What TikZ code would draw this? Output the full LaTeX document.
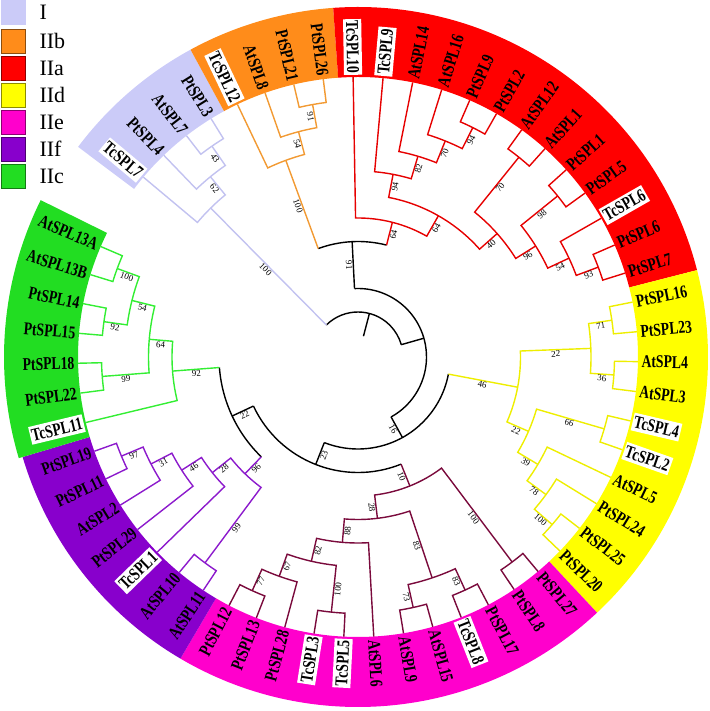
\documentclass[tikz,border=0pt]{standalone}
\usepackage{fontspec}
\setmainfont{Liberation Serif}
\newfontfamily\tipfont[FakeStretch=0.76]{Liberation Serif}
\usepackage{tikz}
\usetikzlibrary{positioning}
\definecolor{bandI}{HTML}{CBCBF8}
\definecolor{bandIIb}{HTML}{FF8C1A}
\definecolor{bandIIa}{HTML}{FF0000}
\definecolor{bandIId}{HTML}{FFFF00}
\definecolor{bandIIe}{HTML}{FF00CC}
\definecolor{bandIIf}{HTML}{8800CC}
\definecolor{bandIIc}{HTML}{22DD22}
\definecolor{lineI}{HTML}{C2C2F0}
\definecolor{lineIIb}{HTML}{F29A33}
\definecolor{lineIIa}{HTML}{E60000}
\definecolor{lineIId}{HTML}{EEEE00}
\definecolor{lineIIe}{HTML}{7A0A3C}
\definecolor{lineIIf}{HTML}{8C1ACC}
\definecolor{lineIIc}{HTML}{33EE33}
\newcounter{bsc}
% tip k sits at 91-6.13k degrees, height h at radius 280-23.5h
\newcommand{\clade}[6]{\draw[branch,#1] ({91-6.13*(#3)}:{280-23.5*(#4)}) -- ({91-6.13*(#3)}:{280-23.5*(#2)})
  arc[start angle={91-6.13*(#3)}, end angle={91-6.13*(#5)}, radius={(280-23.5*(#2))*1pt}] -- ({91-6.13*(#5)}:{280-23.5*(#6)});}
\newcommand{\stem}[4]{\draw[branch,#1] ({91-6.13*(#2)}:{280-23.5*(#3)}) -- ({91-6.13*(#2)}:{280-23.5*(#4)});}
\newcommand{\bbarc}[4]{\draw[branch,#1] ({91-6.13*(#3)}:{280-23.5*(#2)})
  arc[start angle={91-6.13*(#3)}, end angle={91-6.13*(#4)}, radius={(280-23.5*(#2))*1pt}];}
\newcommand{\bslab}[4]{\stepcounter{bsc}\edef\bsN{bs\arabic{bsc}}%
  \pgfmathsetmacro\bsA{91-6.13*(#1)}%
  \pgfmathsetmacro\bsR{280-11.75*((#2)+(#3))}%
  \pgfmathsetmacro\bsT{cos(\bsA)>0 ? \bsA : \bsA+180}%
  \node[boot, rotate=\bsT] (\bsN) at (\bsA:\bsR) {#4};}

\begin{document}
\begin{tikzpicture}[x=1pt,y=1pt,
  branch/.style={line width=1.4pt},
  tip/.style={font=\tipfont\bfseries\fontsize{18}{18}\selectfont, inner xsep=1.5pt, inner ysep=3pt},
  boot/.style={font=\fontsize{9}{9}\selectfont, inner sep=1pt, anchor=north},
  legbox/.style={minimum size=24pt, inner sep=0pt, line width=0.8pt},
  legtxt/.style={font=\fontsize{22}{22}\selectfont, inner sep=0pt}]
\useasboundingbox (-358,-354) rectangle (351,357);

\foreach \ka/\kb/\col/\ro in {-8.5/-4.5/bandI/350, -4.5/-0.5/bandIIb/350, -0.5/12.5/bandIIa/350,
    12.5/22.5/bandIId/350, 22.5/34.5/bandIIe/350, 34.5/41.5/bandIIf/350, 41.5/48.5/bandIIc/354}
  \fill[\col] ({91-6.13*\ka}:280) arc[start angle={91-6.13*\ka}, end angle={91-6.13*\kb}, radius=280pt]
    -- ({91-6.13*\kb}:\ro) arc[start angle={91-6.13*\kb}, end angle={91-6.13*\ka}, radius=\ro pt] -- cycle;

\foreach \lab/\col/\py/\bd [count=\i] in {I/bandI/0/bandI, IIb/bandIIb/29/bandIIb!55!black,
    IIa/bandIIa/56/bandIIa!55!black, IId/bandIId/83/bandIId!55!black, IIe/bandIIe/110/bandIIe!55!black,
    IIf/bandIIf/137/bandIIf!55!black, IIc/bandIIc/164/bandIIc!55!black} {
  \node[legbox, fill=\col, draw=\bd] (sq\i) at (-345,345-\py) {};
  \node[legtxt, right=14pt of sq\i] (lg\i) {\lab};
}

% backbone
\stem{black}{2.5625}{11}{10}
\bbarc{black}{10}{-7.125}{12.25}
\stem{lineI}{-7.125}{10}{3}
\stem{black}{12.25}{10}{9}
\bbarc{black}{9}{-0.3125}{24.8125}
\stem{black}{-0.3125}{9}{7}
\stem{black}{24.8125}{9}{8}
\bbarc{black}{7}{-3.125}{2.5}
\stem{lineIIb}{-3.125}{7}{3}
\stem{lineIIa}{2.5}{7}{6}
\bbarc{black}{8}{16.59375}{33.03125}
\stem{lineIId}{16.59375}{8}{5}
\stem{black}{33.03125}{8}{7}
\bbarc{black}{7}{25.953125}{40.109375}
\stem{lineIIe}{25.953125}{7}{6}
\stem{black}{40.109375}{7}{6}
\bbarc{black}{6}{36.71875}{43.5}
\stem{lineIIf}{36.71875}{6}{5}
\stem{lineIIc}{43.5}{6}{4}
\bslab{-7.125}{10}{3}{100}
\bslab{-0.3125}{9}{7}{91}
\bslab{24.8125}{9}{8}{16}
\bslab{-3.125}{7}{3}{100}
\bslab{2.5}{7}{6}{64}
\bslab{16.59375}{8}{5}{46}
\bslab{33.03125}{8}{7}{23}
\bslab{25.953125}{7}{6}{10}
\bslab{40.109375}{7}{6}{22}
\bslab{36.71875}{6}{5}{96}
\bslab{43.5}{6}{4}{92}

% I
\clade{lineI}{1}{-6}{0}{-5}{0}
\clade{lineI}{2}{-7}{0}{-5.5}{1}
\clade{lineI}{3}{-8}{0}{-6.25}{2}
\bslab{-5.5}{2}{1}{43}
\bslab{-6.25}{3}{2}{62}

% IIb
\clade{lineIIb}{1}{-2}{0}{-1}{0}
\clade{lineIIb}{2}{-3}{0}{-1.5}{1}
\clade{lineIIb}{3}{-4}{0}{-2.25}{2}
\bslab{-1.5}{2}{1}{91}
\bslab{-2.25}{3}{2}{54}

% IIa
\clade{lineIIa}{1}{4}{0}{5}{0}
\clade{lineIIa}{2}{3}{0}{4.5}{1}
\clade{lineIIa}{3}{2}{0}{3.75}{2}
\clade{lineIIa}{4}{1}{0}{2.875}{3}
\clade{lineIIa}{1}{6}{0}{7}{0}
\clade{lineIIa}{1}{8}{0}{9}{0}
\clade{lineIIa}{1}{11}{0}{12}{0}
\clade{lineIIa}{2}{10}{0}{11.5}{1}
\clade{lineIIa}{3}{8.5}{1}{10.75}{2}
\clade{lineIIa}{4}{6.5}{1}{9.625}{3}
\clade{lineIIa}{5}{1.9375}{4}{8.0625}{4}
\clade{lineIIa}{6}{0}{0}{5}{5}
\bslab{4.5}{2}{1}{94}
\bslab{3.75}{3}{2}{70}
\bslab{2.875}{4}{3}{82}
\bslab{1.9375}{5}{4}{94}
\bslab{6.5}{4}{1}{70}
\bslab{8.5}{3}{1}{98}
\bslab{11.5}{2}{1}{93}
\bslab{10.75}{3}{2}{54}
\bslab{9.625}{4}{3}{96}
\bslab{8.0625}{5}{4}{40}
\bslab{5}{6}{5}{64}

% IId
\clade{lineIId}{1}{13}{0}{14}{0}
\clade{lineIId}{1}{15}{0}{16}{0}
\clade{lineIId}{2}{13.5}{1}{15.5}{1}
\clade{lineIId}{1}{17}{0}{18}{0}
\clade{lineIId}{1}{21}{0}{22}{0}
\clade{lineIId}{2}{20}{0}{21.5}{1}
\clade{lineIId}{3}{19}{0}{20.75}{2}
\clade{lineIId}{4}{17.5}{1}{19.875}{3}
\clade{lineIId}{5}{14.5}{2}{18.6875}{4}
\bslab{13.5}{2}{1}{71}
\bslab{15.5}{2}{1}{36}
\bslab{14.5}{5}{2}{22}
\bslab{17.5}{4}{1}{66}
\bslab{21.5}{2}{1}{100}
\bslab{20.75}{3}{2}{78}
\bslab{19.875}{4}{3}{39}
\bslab{18.6875}{5}{4}{22}

% IIe
\clade{lineIIe}{1}{23}{0}{24}{0}
\clade{lineIIe}{1}{25}{0}{26}{0}
\clade{lineIIe}{1}{27}{0}{28}{0}
\clade{lineIIe}{2}{25.5}{1}{27.5}{1}
\clade{lineIIe}{1}{30}{0}{31}{0}
\clade{lineIIe}{1}{33}{0}{34}{0}
\clade{lineIIe}{2}{32}{0}{33.5}{1}
\clade{lineIIe}{3}{30.5}{1}{32.75}{2}
\clade{lineIIe}{4}{29}{0}{31.625}{3}
\clade{lineIIe}{5}{26.5}{2}{30.3125}{4}
\clade{lineIIe}{6}{23.5}{1}{28.40625}{5}
\bslab{23.5}{6}{1}{100}
\bslab{25.5}{2}{1}{83}
\bslab{27.5}{2}{1}{73}
\bslab{26.5}{5}{2}{83}
\bslab{30.5}{3}{1}{100}
\bslab{33.5}{2}{1}{77}
\bslab{32.75}{3}{2}{67}
\bslab{31.625}{4}{3}{82}
\bslab{30.3125}{5}{4}{88}
\bslab{28.40625}{6}{5}{28}

% IIf
\clade{lineIIf}{1}{35}{0}{36}{0}
\clade{lineIIf}{1}{40}{0}{41}{0}
\clade{lineIIf}{2}{39}{0}{40.5}{1}
\clade{lineIIf}{3}{38}{0}{39.75}{2}
\clade{lineIIf}{4}{37}{0}{38.875}{3}
\clade{lineIIf}{5}{35.5}{1}{37.9375}{4}
\bslab{35.5}{5}{1}{99}
\bslab{40.5}{2}{1}{97}
\bslab{39.75}{3}{2}{31}
\bslab{38.875}{4}{3}{46}
\bslab{37.9375}{5}{4}{28}

% IIc
\clade{lineIIc}{1}{43}{0}{44}{0}
\clade{lineIIc}{1}{45}{0}{46}{0}
\clade{lineIIc}{1}{47}{0}{48}{0}
\clade{lineIIc}{2}{45.5}{1}{47.5}{1}
\clade{lineIIc}{3}{43.5}{1}{46.5}{2}
\clade{lineIIc}{4}{42}{0}{45}{3}
\bslab{43.5}{3}{1}{99}
\bslab{45.5}{2}{1}{92}
\bslab{47.5}{2}{1}{100}
\bslab{46.5}{3}{2}{54}
\bslab{45}{4}{3}{64}

% tip labels
\foreach \nm/\fc [count=\k from -8] in {TcSPL7/white, PtSPL4/none, AtSPL7/none, PtSPL3/none,
    TcSPL12/white, AtSPL8/none, PtSPL21/none, PtSPL26/none,
    TcSPL10/white, TcSPL9/white, AtSPL14/none, AtSPL16/none, PtSPL9/none, PtSPL2/none, AtSPL12/none,
    AtSPL1/none, PtSPL1/none, PtSPL5/none, TcSPL6/white, PtSPL6/none, PtSPL7/none,
    PtSPL16/none, PtSPL23/none, AtSPL4/none, AtSPL3/none, TcSPL4/white, TcSPL2/white, AtSPL5/none,
    PtSPL24/none, PtSPL25/none, PtSPL20/none,
    PtSPL27/none, PtSPL8/none, PtSPL17/none, TcSPL8/white, AtSPL15/none, AtSPL9/none, AtSPL6/none,
    TcSPL5/white, TcSPL3/white, PtSPL28/none, PtSPL13/none, PtSPL12/none,
    AtSPL11/none, AtSPL10/none, TcSPL1/white, PtSPL29/none, AtSPL2/none, PtSPL11/none, PtSPL19/none,
    TcSPL11/white, PtSPL22/none, PtSPL18/none, PtSPL15/none, PtSPL14/none, AtSPL13B/none, AtSPL13A/none} {
  \pgfmathsetmacro\tipA{91-6.13*\k}
  \pgfmathsetmacro\tipR{cos(\tipA)>0 ? \tipA : \tipA+180}
  \ifdim\tipA pt=\tipR pt \def\tipanc{west}\else\def\tipanc{east}\fi
  \node[tip, fill=\fc, rotate=\tipR, anchor=\tipanc] (\nm) at (\tipA:282) {\nm};
}
\end{tikzpicture}
\end{document}
